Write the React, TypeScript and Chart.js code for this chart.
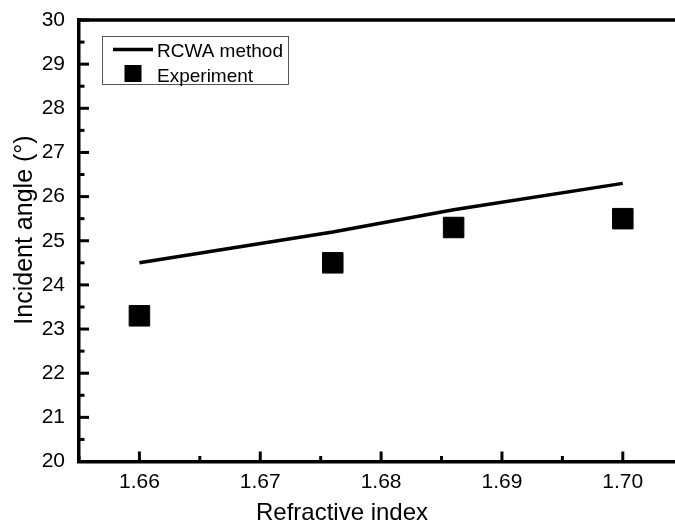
import React, { useEffect, useRef } from 'react';
import { Chart, registerables } from 'chart.js';

Chart.register(...registerables);

const refractiveIndex = [1.66, 1.676, 1.686, 1.7];
const rcwaAngle = [24.5, 25.2, 25.7, 26.3];
const experimentAngle = [23.3, 24.5, 25.3, 25.5];
const xTickLabels = ['1.66', '1.67', '1.68', '1.69', '1.70'];
const yTickLabels = ['20', '21', '22', '23', '24', '25', '26', '27', '28', '29', '30'];
const seriesNames = ['RCWA method', 'Experiment'];
const xTitle = 'Refractive index';
const yTitle = 'Incident angle (°)';

const FONT = '"Liberation Sans", Arial, Helvetica, sans-serif';

const framePlugin = {
  id: 'frame',
  beforeDatasetsDraw(chart: any) {
    const { ctx, chartArea, scales } = chart;
    const { left, top, bottom, right } = chartArea;
    const x = scales.x;
    const y = scales.y;
    ctx.save();
    ctx.strokeStyle = '#000';
    ctx.lineWidth = 3;
    ctx.lineCap = 'butt';
    x.ticks.forEach((t: any) => {
      const px = x.getPixelForValue(t.value);
      const len = t.label ? 10 : 5.5;
      ctx.beginPath();
      ctx.moveTo(px, bottom);
      ctx.lineTo(px, bottom - len);
      ctx.stroke();
    });
    y.ticks.forEach((t: any) => {
      const py = y.getPixelForValue(t.value);
      const len = t.label ? 10 : 5.5;
      ctx.beginPath();
      ctx.moveTo(left, py);
      ctx.lineTo(left + len, py);
      ctx.stroke();
    });
    ctx.lineWidth = 3.5;
    ctx.beginPath();
    ctx.moveTo(left - 1.75, top);
    ctx.lineTo(right, top);
    ctx.stroke();

    // axis titles
    ctx.fillStyle = '#000';
    ctx.font = `24px ${FONT}`;
    ctx.textAlign = 'center';
    ctx.textBaseline = 'alphabetic';
    ctx.fillText(xTitle, 342, 520);
    ctx.save();
    ctx.translate(32, 230);
    ctx.rotate(-Math.PI / 2);
    ctx.font = `25px ${FONT}`;
    ctx.fillText(yTitle, 0, 0);
    ctx.restore();
    ctx.restore();
  },
  afterDraw(chart: any) {
    const { ctx } = chart;
    ctx.save();
    ctx.strokeStyle = '#555';
    ctx.lineWidth = 1;
    ctx.strokeRect(102.5, 36.5, 186, 48);
    ctx.strokeStyle = '#000';
    ctx.lineWidth = 3.5;
    ctx.beginPath();
    ctx.moveTo(113, 49.5);
    ctx.lineTo(153, 49.5);
    ctx.stroke();
    ctx.fillStyle = '#000';
    ctx.fillRect(124.5, 65, 17, 17);
    ctx.font = `19px ${FONT}`;
    ctx.textAlign = 'left';
    ctx.textBaseline = 'alphabetic';
    ctx.fillText(seriesNames[0], 157, 57);
    ctx.fillText(seriesNames[1], 157, 81.5);
    ctx.restore();
  },
};

export default function App() {
  const ref = useRef<HTMLCanvasElement | null>(null);
  useEffect(() => {
    if (!ref.current) return;
    const chart = new Chart(ref.current, {
      type: 'scatter',
      data: {
        datasets: [
          {
            label: seriesNames[0],
            data: refractiveIndex.map((x, i) => ({ x, y: rcwaAngle[i] })),
            showLine: true,
            borderColor: '#000',
            backgroundColor: '#000',
            borderWidth: 3.5,
            pointRadius: 0,
            tension: 0,
          },
          {
            label: seriesNames[1],
            data: refractiveIndex.map((x, i) => ({ x, y: experimentAngle[i] })),
            pointStyle: 'rect',
            pointRadius: 14.5,
            backgroundColor: '#000',
            borderColor: '#000',
            borderWidth: 1,
          },
        ],
      },
      options: {
        responsive: false,
        animation: false,
        layout: { autoPadding: false, padding: { top: 20, left: 0, right: 0, bottom: 0 } },
        plugins: { legend: { display: false }, tooltip: { enabled: false } },
        scales: {
          x: {
            type: 'linear',
            position: 'bottom',
            min: 1.655,
            max: 1.70432,
            grid: { display: false, drawTicks: false },
            border: { display: true, width: 3.5, color: '#000' },
            ticks: {
              stepSize: 0.005,
              includeBounds: false,
              autoSkip: false,
              maxRotation: 0,
              padding: 8,
              color: '#000',
              font: { family: FONT, size: 21 },
              callback: (v: any) => {
                const s = Number(v).toFixed(2);
                return Math.abs(Number(v) - Number(s)) < 1e-6 && xTickLabels.includes(s) ? s : '';
              },
            },
            afterFit: (s: any) => {
              s.height = 61.5;
              s.paddingLeft = 0;
              s.paddingRight = 0;
            },
          },
          y: {
            type: 'linear',
            min: 20,
            max: 30,
            grid: { display: false, drawTicks: false },
            border: { display: true, width: 3.5, color: '#000' },
            ticks: {
              stepSize: 0.5,
              autoSkip: false,
              padding: 14,
              color: '#000',
              font: { family: FONT, size: 21 },
              callback: (v: any) => {
                const s = String(Math.round(Number(v)));
                return Math.abs(Number(v) - Math.round(Number(v))) < 1e-6 && yTickLabels.includes(s) ? s : '';
              },
            },
            afterFit: (s: any) => {
              s.width = 79;
              s.paddingTop = 0;
              s.paddingBottom = 0;
            },
          },
        },
      },
      plugins: [framePlugin],
    });
    return () => chart.destroy();
  }, []);
  return (
    <div
      style={{
        position: 'fixed',
        left: 0,
        top: 0,
        width: 675,
        height: 523,
        overflow: 'hidden',
        background: '#fff',
      }}
    >
      <canvas ref={ref} width={675} height={523} style={{ display: 'block', width: 675, height: 523 }} />
    </div>
  );
}
